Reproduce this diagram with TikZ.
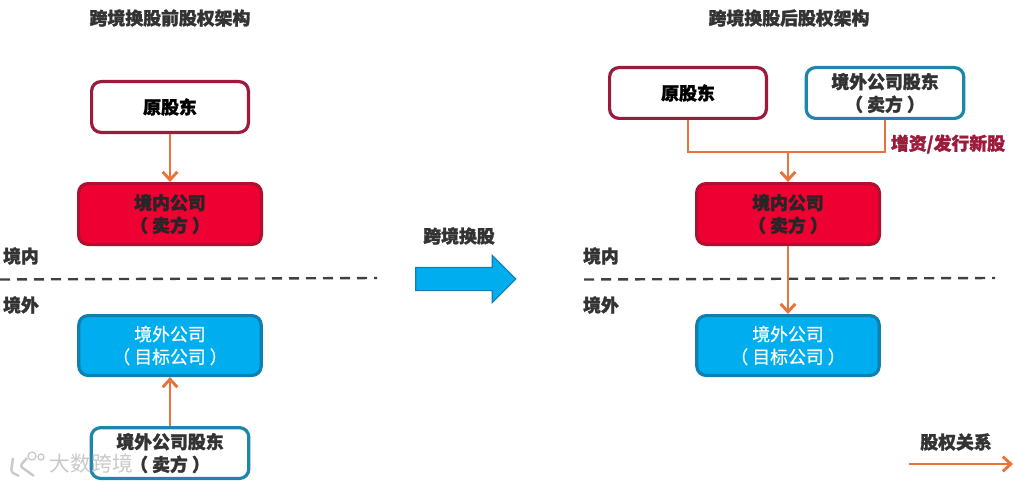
\documentclass[tikz,border=0pt]{standalone}
\usepackage{fontspec}
\setmainfont{Noto Sans CJK SC}[BoldFeatures={FakeBold=1.6}]
\usetikzlibrary{arrows.meta, positioning, shapes.arrows}
\definecolor{textdark}{HTML}{333333}
\definecolor{redline}{HTML}{9C1B3C}
\definecolor{tealline}{HTML}{1F86AB}
\definecolor{buyerred}{HTML}{EE0033}
\definecolor{buyerline}{HTML}{B0102F}
\definecolor{targetblue}{HTML}{00AEEF}
\definecolor{targetline}{HTML}{0E7FB0}
\definecolor{orangeline}{HTML}{E8743B}
\definecolor{dashgrey}{HTML}{404040}
\definecolor{markgrey}{HTML}{C9C9C9}

\begin{document}
\begin{tikzpicture}[
      x=0.75pt, y=-0.75pt,
      every node/.style={font=\fontsize{13.4}{17}\selectfont, align=center},
      box/.style={rounded corners=7pt, line width=2.4pt, inner sep=0pt},
      holder/.style={box, draw=redline, fill=white, text=black, font=\fontsize{13.4}{17}\selectfont\bfseries,
                     minimum width=117.6pt, minimum height=38.1pt},
      seller/.style={box, draw=tealline, fill=white, text=textdark, font=\fontsize{13.4}{17}\selectfont\bfseries,
                     minimum width=118.2pt, minimum height=38.1pt},
      buyer/.style={box, draw=buyerline, fill=buyerred, text=black!85, font=\fontsize{13.4}{17}\selectfont\bfseries,
                     minimum width=137.1pt, minimum height=45.6pt},
      target/.style={box, draw=targetline, fill=targetblue, text=white,
                     font=\fontsize{13.4}{17}\selectfont\addfontfeature{FakeBold=0.6},
                     minimum width=136.8pt, minimum height=44.9pt},
      lbl/.style={text=textdark, font=\fontsize{13.4}{17}\selectfont\bfseries},
      arr/.style={-{Straight Barb[length=6pt, width=11pt]}, line width=2.2pt, draw=orangeline},
      link/.style={line width=2.2pt, draw=orangeline},
      border/.style={dash pattern=on 7.5pt off 5.25pt, line width=1.8pt, draw=dashgrey}
    ]
    \useasboundingbox (0,0) rectangle (1014,485);

    % before
    \node[lbl] (titleL) at (170,18) {跨境换股前股权架构};
    \node[holder] (origL) at (170,107) {原股东};
    \node[buyer, below=36pt of origL] (buyerL) {境内公司\\（ 卖方 ）};
    \node[target, below=51pt of buyerL] (targetL) {境外公司\\（ 目标公司 ）};
    \node[seller, below=36.75pt of targetL] (sellerL) {境外公司股东\\（ 卖方 ）};
    \draw[arr] (origL) -- (buyerL);
    \draw[arr] (sellerL) -- (targetL);

    \node[lbl] (inL) at (21,256) {境内};
    \node[lbl] (outL) at (21,305) {境外};
    \coordinate (dashLa) at (0,279.5);
    \coordinate (dashLb) at (377,278);
    \draw[border] (dashLa) -- (dashLb);

    % middle
    \node[lbl] (swap) at (459,236) {跨境换股};
    \node[single arrow, draw=targetline, fill=targetblue, line width=0.8pt, inner xsep=0pt, inner ysep=8.25pt,
          minimum height=75pt, single arrow head extend=9pt] (bigarr) at (460,279) {};

    % after
    \node[lbl] (titleR) at (789,18) {跨境换股后股权架构};
    \node[holder] (origR) at (688,93) {原股东};
    \node[seller] (sellerR) at (885,93) {境外公司股东\\（ 卖方 ）};
    \node[buyer] (buyerR) at (788,214) {境内公司\\（ 卖方 ）};
    \node[target, below=51pt of buyerR] (targetR) {境外公司\\（ 目标公司 ）};
    \coordinate (join) at (788,152);
    \draw[link] (origR) |- (join);
    \draw[link] (sellerR.south) |- (join);
    \draw[arr] (join) -- (buyerR);

    \node[lbl] (inR) at (601,256) {境内};
    \node[lbl] (outR) at (601,305) {境外};
    \coordinate (dashRa) at (584,279.5);
    \coordinate (dashRb) at (995,278);
    \draw[border] (dashRa) -- (dashRb);
    \draw[arr] (buyerR) -- (targetR);

    \node[lbl, text=redline] (issue) at (948,144) {增资/发行新股};

    % legend
    \node[lbl] (legend) at (956,442) {股权关系};
    \coordinate (legenda) at (909,464);
    \coordinate (legendb) at (1013,464);
    \draw[arr] (legenda) -- (legendb);

    % watermark
    \node[text=markgrey, font=\fontsize{15.6}{17}\selectfont] (mark) at (91.5,464) {大数跨境};
    \draw[markgrey, line width=1.8pt, rounded corners=2pt] (13,458) -- (11,472) -- (19,476);
    \draw[markgrey, line width=1.8pt, rounded corners=2pt] (27,458) -- (20,466) -- (34,476);
    \draw[markgrey, line width=1pt] (32,456) circle (4) (41,457) circle (3);
  \end{tikzpicture}
\end{document}
